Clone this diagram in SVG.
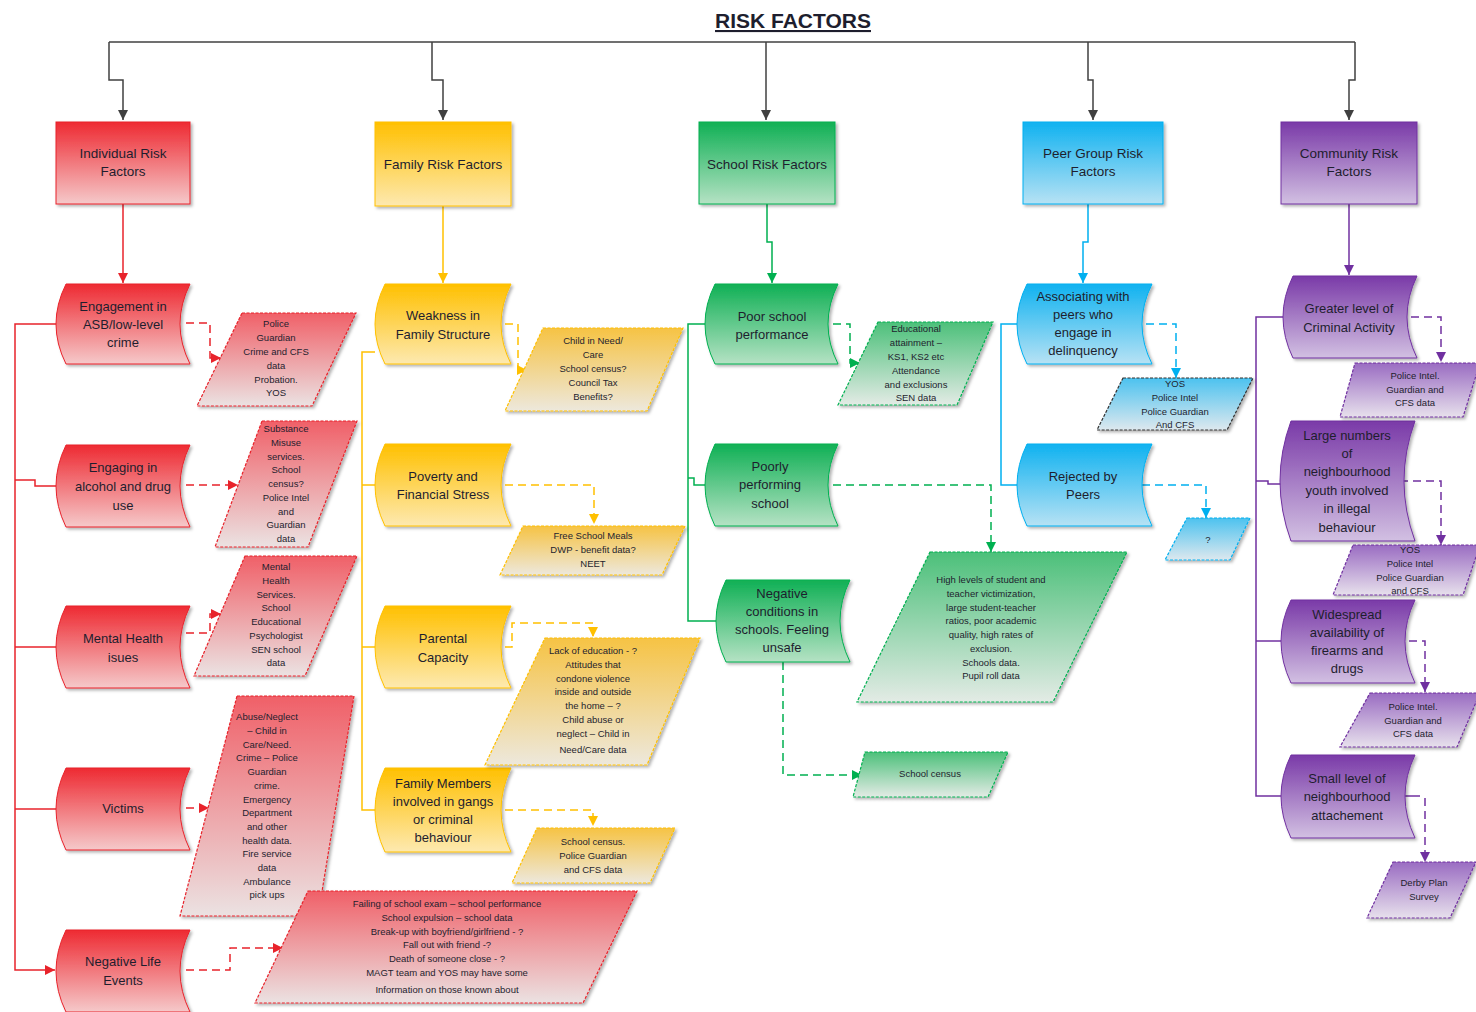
<svg xmlns="http://www.w3.org/2000/svg" width="1476" height="1012" viewBox="0 0 1476 1012">
<style>
text{font-family:"Liberation Sans",Arial,sans-serif;fill:#1e1e2e;text-anchor:middle}
.nt{font-size:13px}
.ht{font-size:13.5px}
.dt{font-size:9.5px}
.title{font-size:21px;font-weight:bold;text-decoration:underline}
.ln{fill:none;stroke-width:1.5}
.dash{stroke-dasharray:8 5}
.red{stroke:#e8232b}.yel{stroke:#ffc000}.grn{stroke:#00b050}.blu{stroke:#00b0f0}.pur{stroke:#7030a0}.blk{stroke:#404040}
.box{stroke-width:1.2;stroke-dasharray:3 1.5}
.node{stroke-width:1}
</style>
<defs>
<filter id="sh" x="-10%" y="-10%" width="125%" height="125%"><feDropShadow dx="2" dy="2" stdDeviation="1.5" flood-color="#000" flood-opacity="0.3"/></filter>
<linearGradient id="gr" x1="0" y1="0" x2="0" y2="1"><stop offset="0" stop-color="#ee2a32"/><stop offset="1" stop-color="#f5c9ca"/></linearGradient>
<linearGradient id="gy" x1="0" y1="0" x2="0" y2="1"><stop offset="0" stop-color="#ffc000"/><stop offset="1" stop-color="#fde9b0"/></linearGradient>
<linearGradient id="gg" x1="0" y1="0" x2="0" y2="1"><stop offset="0" stop-color="#10b055"/><stop offset="1" stop-color="#b5e2c4"/></linearGradient>
<linearGradient id="gb" x1="0" y1="0" x2="0" y2="1"><stop offset="0" stop-color="#10b2f0"/><stop offset="1" stop-color="#b7e2f4"/></linearGradient>
<linearGradient id="gp" x1="0" y1="0" x2="0" y2="1"><stop offset="0" stop-color="#7a3aa8"/><stop offset="1" stop-color="#d2c0e2"/></linearGradient>
<linearGradient id="dr" x1="0" y1="0" x2="0" y2="1"><stop offset="0" stop-color="#f06068"/><stop offset="1" stop-color="#ebe2e2"/></linearGradient>
<linearGradient id="dy" x1="0" y1="0" x2="0" y2="1"><stop offset="0" stop-color="#f6c344"/><stop offset="1" stop-color="#ede8dc"/></linearGradient>
<linearGradient id="dg" x1="0" y1="0" x2="0" y2="1"><stop offset="0" stop-color="#4cc07a"/><stop offset="1" stop-color="#e3ebe5"/></linearGradient>
<linearGradient id="db" x1="0" y1="0" x2="0" y2="1"><stop offset="0" stop-color="#4cc2ef"/><stop offset="1" stop-color="#dde8ee"/></linearGradient>
<linearGradient id="dp" x1="0" y1="0" x2="0" y2="1"><stop offset="0" stop-color="#9a6cc2"/><stop offset="1" stop-color="#e7e0ec"/></linearGradient>
<marker id="ak" markerUnits="userSpaceOnUse" markerWidth="12" markerHeight="12" refX="10" refY="5" orient="auto"><path d="M0,0 L10,5 L0,10 Z" fill="#404040"/></marker>
<marker id="ar" markerUnits="userSpaceOnUse" markerWidth="12" markerHeight="12" refX="10" refY="5" orient="auto"><path d="M0,0 L10,5 L0,10 Z" fill="#e8232b"/></marker>
<marker id="ay" markerUnits="userSpaceOnUse" markerWidth="12" markerHeight="12" refX="10" refY="5" orient="auto"><path d="M0,0 L10,5 L0,10 Z" fill="#ffc000"/></marker>
<marker id="ag" markerUnits="userSpaceOnUse" markerWidth="12" markerHeight="12" refX="10" refY="5" orient="auto"><path d="M0,0 L10,5 L0,10 Z" fill="#00b050"/></marker>
<marker id="ab" markerUnits="userSpaceOnUse" markerWidth="12" markerHeight="12" refX="10" refY="5" orient="auto"><path d="M0,0 L10,5 L0,10 Z" fill="#00b0f0"/></marker>
<marker id="ap" markerUnits="userSpaceOnUse" markerWidth="12" markerHeight="12" refX="10" refY="5" orient="auto"><path d="M0,0 L10,5 L0,10 Z" fill="#7030a0"/></marker>
</defs>
<rect width="1476" height="1012" fill="#ffffff"/>
<text class="title" x="793" y="28">RISK FACTORS</text>

<g id="connectors">
<path class="ln blk" d="M109,42 H1355"/>
<path class="ln blk" d="M109,42 V80 H123 V120" marker-end="url(#ak)"/>
<path class="ln blk" d="M432,42 V80 H443 V120" marker-end="url(#ak)"/>
<path class="ln blk" d="M766,42 V120" marker-end="url(#ak)"/>
<path class="ln blk" d="M1088,42 V80 H1093 V120" marker-end="url(#ak)"/>
<path class="ln blk" d="M1355,42 V80 H1349 V120" marker-end="url(#ak)"/>
<!-- individual -->
<path class="ln red" d="M123,204 V283" marker-end="url(#ar)"/>
<path class="ln red" d="M56,324 H15 V970 H55" marker-end="url(#ar)"/>
<path class="ln red" d="M15,480 H35 V486 H56"/>
<path class="ln red" d="M15,647 H56"/>
<path class="ln red" d="M15,809 H56"/>
<path class="ln red dash" d="M186,323 H210 V358 H221" marker-end="url(#ar)"/>
<path class="ln red dash" d="M186,485 H238" marker-end="url(#ar)"/>
<path class="ln red dash" d="M186,633 H210 V614 H221" marker-end="url(#ar)"/>
<path class="ln red dash" d="M186,808 H209" marker-end="url(#ar)"/>
<path class="ln red dash" d="M186,970 H230 V948 H283" marker-end="url(#ar)"/>
<!-- family -->
<path class="ln yel" d="M443,206 V283" marker-end="url(#ay)"/>
<path class="ln yel" d="M375,352 H362 V810 H375"/>
<path class="ln yel" d="M362,485 H375"/>
<path class="ln yel" d="M362,647 H375"/>
<path class="ln yel dash" d="M505,324 H518 V370 H527" marker-end="url(#ay)"/>
<path class="ln yel dash" d="M505,485 H594 V524" marker-end="url(#ay)"/>
<path class="ln yel dash" d="M505,647 H512 V623 H593 V637" marker-end="url(#ay)"/>
<path class="ln yel dash" d="M505,810 H593 V826" marker-end="url(#ay)"/>
<!-- school -->
<path class="ln grn" d="M767,204 V242 H772 V283" marker-end="url(#ag)"/>
<path class="ln grn" d="M705,324 H688 V621 H716"/>
<path class="ln grn" d="M688,478 H694 V485 H705"/>
<path class="ln grn dash" d="M833,324 H850 V363 H860" marker-end="url(#ag)"/>
<path class="ln grn dash" d="M833,485 H991 V552" marker-end="url(#ag)"/>
<path class="ln grn dash" d="M783,662 V775 H862" marker-end="url(#ag)"/>
<!-- peer -->
<path class="ln blu" d="M1088,204 V242 H1083 V283" marker-end="url(#ab)"/>
<path class="ln blu" d="M1017,324 H1001 V485 H1017"/>
<path class="ln blu dash" d="M1146,324 H1176 V378" marker-end="url(#ab)"/>
<path class="ln blu dash" d="M1142,485 H1206 V518" marker-end="url(#ab)"/>
<!-- community -->
<path class="ln pur" d="M1349,204 V275" marker-end="url(#ap)"/>
<path class="ln pur" d="M1283,317 H1256 V796 H1281"/>
<path class="ln pur" d="M1256,481 H1268 V484 H1281"/>
<path class="ln pur" d="M1256,641 H1281"/>
<path class="ln pur dash" d="M1411,317 H1441 V362" marker-end="url(#ap)"/>
<path class="ln pur dash" d="M1400,481 H1441 V545" marker-end="url(#ap)"/>
<path class="ln pur dash" d="M1409,641 H1425 V692" marker-end="url(#ap)"/>
<path class="ln pur" d="M1405,796 H1420"/>
<path class="ln pur dash" d="M1425,798 V862" marker-end="url(#ap)"/>
</g>

<!-- headers -->
<g id="h-individual"><rect x="56" y="122" width="134" height="82" fill="url(#gr)" stroke="#e8232b" filter="url(#sh)"/><text class="ht" x="123" y="157.5">Individual Risk<tspan x="123" dy="18.5">Factors</tspan></text></g>
<g id="h-family"><rect x="375" y="122" width="136" height="84" fill="url(#gy)" stroke="#ffc000" filter="url(#sh)"/><text class="ht" x="443" y="168.5">Family Risk Factors</text></g>
<g id="h-school"><rect x="699" y="122" width="136" height="82" fill="url(#gg)" stroke="#00b050" filter="url(#sh)"/><text class="ht" x="767" y="168.5">School Risk Factors</text></g>
<g id="h-peer"><rect x="1023" y="122" width="140" height="82" fill="url(#gb)" stroke="#00b0f0" filter="url(#sh)"/><text class="ht" x="1093" y="157.5">Peer Group Risk<tspan x="1093" dy="18.5">Factors</tspan></text></g>
<g id="h-community"><rect x="1281" y="122" width="136" height="82" fill="url(#gp)" stroke="#7030a0" filter="url(#sh)"/><text class="ht" x="1349" y="157.5">Community Risk<tspan x="1349" dy="18.5">Factors</tspan></text></g>

<!-- individual nodes -->
<g id="n-asb"><path class="node" d="M66,284 H190 Q170,324 190,364 H66 Q46,324 66,284 Z" fill="url(#gr)" stroke="#e8232b" filter="url(#sh)"/><text class="nt" x="123" y="310.5">Engagement in<tspan x="123" dy="18">ASB/low-level</tspan><tspan x="123" dy="18">crime</tspan></text></g>
<g id="n-alcohol"><path class="node" d="M66,445 H190 Q170,486 190,527 H66 Q46,486 66,445 Z" fill="url(#gr)" stroke="#e8232b" filter="url(#sh)"/><text class="nt" x="123" y="471.5">Engaging in<tspan x="123" dy="19">alcohol and drug</tspan><tspan x="123" dy="19">use</tspan></text></g>
<g id="n-mental"><path class="node" d="M66,606 H190 Q170,647 190,688 H66 Q46,647 66,606 Z" fill="url(#gr)" stroke="#e8232b" filter="url(#sh)"/><text class="nt" x="123" y="642.5">Mental Health<tspan x="123" dy="19">isues</tspan></text></g>
<g id="n-victims"><path class="node" d="M66,768 H190 Q170,809 190,850 H66 Q46,809 66,768 Z" fill="url(#gr)" stroke="#e8232b" filter="url(#sh)"/><text class="nt" x="123" y="812.5">Victims</text></g>
<g id="n-negative"><path class="node" d="M66,930 H190 Q170,971 190,1012 H66 Q46,971 66,930 Z" fill="url(#gr)" stroke="#e8232b" filter="url(#sh)"/><text class="nt" x="123" y="965.5">Negative Life<tspan x="123" dy="19">Events</tspan></text></g>

<!-- individual data -->
<g id="d-asb"><polygon class="box" points="242,313 356,313 312,406 197,406" fill="url(#dr)" stroke="#e8232b" filter="url(#sh)"/><text class="dt" x="276" y="327.3">Police<tspan x="276" dy="13.8">Guardian</tspan><tspan x="276" dy="13.8">Crime and CFS</tspan><tspan x="276" dy="13.8">data</tspan><tspan x="276" dy="13.8">Probation.</tspan><tspan x="276" dy="13.8">YOS</tspan></text></g>
<g id="d-alcohol"><polygon class="box" points="262,421 357,421 308,547 215,547" fill="url(#dr)" stroke="#e8232b" filter="url(#sh)"/><text class="dt" x="286" y="432.3">Substance<tspan x="286" dy="13.7">Misuse</tspan><tspan x="286" dy="13.7">services.</tspan><tspan x="286" dy="13.7">School</tspan><tspan x="286" dy="13.7">census?</tspan><tspan x="286" dy="13.7">Police Intel</tspan><tspan x="286" dy="13.7">and</tspan><tspan x="286" dy="13.7">Guardian</tspan><tspan x="286" dy="13.7">data</tspan></text></g>
<g id="d-mental"><polygon class="box" points="245,556 357,556 305,676 194,676" fill="url(#dr)" stroke="#e8232b" filter="url(#sh)"/><text class="dt" x="276" y="570.3">Mental<tspan x="276" dy="13.7">Health</tspan><tspan x="276" dy="13.7">Services.</tspan><tspan x="276" dy="13.7">School</tspan><tspan x="276" dy="13.7">Educational</tspan><tspan x="276" dy="13.7">Psychologist</tspan><tspan x="276" dy="13.7">SEN school</tspan><tspan x="276" dy="13.7">data</tspan></text></g>
<g id="d-victims"><polygon class="box" points="237,696 354,696 318,916 180,916" fill="url(#dr)" stroke="#e8232b" filter="url(#sh)"/><text class="dt" x="267" y="720.3">Abuse/Neglect<tspan x="267" dy="13.7">– Child in</tspan><tspan x="267" dy="13.7">Care/Need.</tspan><tspan x="267" dy="13.7">Crime – Police</tspan><tspan x="267" dy="13.7">Guardian</tspan><tspan x="267" dy="13.7">crime.</tspan><tspan x="267" dy="13.7">Emergency</tspan><tspan x="267" dy="13.7">Department</tspan><tspan x="267" dy="13.7">and other</tspan><tspan x="267" dy="13.7">health data.</tspan><tspan x="267" dy="13.7">Fire service</tspan><tspan x="267" dy="13.7">data</tspan><tspan x="267" dy="13.7">Ambulance</tspan><tspan x="267" dy="13.7">pick ups</tspan></text></g>
<g id="d-negative"><polygon class="box" points="308,891 637,891 583,1003 255,1003" fill="url(#dr)" stroke="#e8232b" filter="url(#sh)"/><text class="dt" x="447" y="907.3">Failing of school exam – school performance<tspan x="447" dy="13.7">School expulsion – school data</tspan><tspan x="447" dy="13.7">Break-up with boyfriend/girlfriend - ?</tspan><tspan x="447" dy="13.7">Fall out with friend -?</tspan><tspan x="447" dy="13.7">Death of someone close - ?</tspan><tspan x="447" dy="13.7">MAGT team and YOS may have some</tspan><tspan x="447" dy="17.5">Information on those known about</tspan></text></g>

<!-- family nodes -->
<g id="n-weakness"><path class="node" d="M385,284 H511 Q491,324 511,364 H385 Q365,324 385,284 Z" fill="url(#gy)" stroke="#ffc000" filter="url(#sh)"/><text class="nt" x="443" y="319.5">Weakness in<tspan x="443" dy="19">Family Structure</tspan></text></g>
<g id="n-poverty"><path class="node" d="M385,444 H511 Q491,485 511,526 H385 Q365,485 385,444 Z" fill="url(#gy)" stroke="#ffc000" filter="url(#sh)"/><text class="nt" x="443" y="480.5">Poverty and<tspan x="443" dy="18">Financial Stress</tspan></text></g>
<g id="n-parental"><path class="node" d="M385,606 H511 Q491,647 511,688 H385 Q365,647 385,606 Z" fill="url(#gy)" stroke="#ffc000" filter="url(#sh)"/><text class="nt" x="443" y="642.5">Parental<tspan x="443" dy="19">Capacity</tspan></text></g>
<g id="n-gangs"><path class="node" d="M385,768 H511 Q491,810 511,852 H385 Q365,810 385,768 Z" fill="url(#gy)" stroke="#ffc000" filter="url(#sh)"/><text class="nt" x="443" y="787.5">Family Members<tspan x="443" dy="18.3">involved in gangs</tspan><tspan x="443" dy="18.3">or criminal</tspan><tspan x="443" dy="18.3">behaviour</tspan></text></g>

<!-- family data -->
<g id="d-weakness"><polygon class="box" points="543,328 683,328 647,411 505,411" fill="url(#dy)" stroke="#ffc000" filter="url(#sh)"/><text class="dt" x="593" y="344.3">Child in Need/<tspan x="593" dy="14">Care</tspan><tspan x="593" dy="14">School census?</tspan><tspan x="593" dy="14">Council Tax</tspan><tspan x="593" dy="14">Benefits?</tspan></text></g>
<g id="d-poverty"><polygon class="box" points="523,526 685,526 662,575 500,575" fill="url(#dy)" stroke="#ffc000" filter="url(#sh)"/><text class="dt" x="593" y="539.3">Free School Meals<tspan x="593" dy="14">DWP - benefit data?</tspan><tspan x="593" dy="14">NEET</tspan></text></g>
<g id="d-parental"><polygon class="box" points="545,638 700,638 647,765 485,765" fill="url(#dy)" stroke="#ffc000" filter="url(#sh)"/><text class="dt" x="593" y="654.3">Lack of education - ?<tspan x="593" dy="13.7">Attitudes that</tspan><tspan x="593" dy="13.7">condone violence</tspan><tspan x="593" dy="13.7">inside and outside</tspan><tspan x="593" dy="13.7">the home – ?</tspan><tspan x="593" dy="13.7">Child abuse or</tspan><tspan x="593" dy="13.7">neglect – Child in</tspan><tspan x="593" dy="16.5">Need/Care data</tspan></text></g>
<g id="d-gangs"><polygon class="box" points="537,828 675,828 650,883 512,883" fill="url(#dy)" stroke="#ffc000" filter="url(#sh)"/><text class="dt" x="593" y="845.3">School census.<tspan x="593" dy="14">Police Guardian</tspan><tspan x="593" dy="14">and CFS data</tspan></text></g>

<!-- school nodes -->
<g id="n-poor"><path class="node" d="M715,284 H838 Q818,324 838,364 H715 Q695,324 715,284 Z" fill="url(#gg)" stroke="#00b050" filter="url(#sh)"/><text class="nt" x="772" y="320.5">Poor school<tspan x="772" dy="18">performance</tspan></text></g>
<g id="n-poorly"><path class="node" d="M715,444 H838 Q818,485 838,526 H715 Q695,485 715,444 Z" fill="url(#gg)" stroke="#00b050" filter="url(#sh)"/><text class="nt" x="770" y="470.5">Poorly<tspan x="770" dy="18.5">performing</tspan><tspan x="770" dy="18.5">school</tspan></text></g>
<g id="n-unsafe"><path class="node" d="M726,580 H850 Q830,621 850,662 H726 Q706,621 726,580 Z" fill="url(#gg)" stroke="#00b050" filter="url(#sh)"/><text class="nt" x="782" y="597.5">Negative<tspan x="782" dy="18.3">conditions in</tspan><tspan x="782" dy="18.3">schools. Feeling</tspan><tspan x="782" dy="18.3">unsafe</tspan></text></g>

<!-- school data -->
<g id="d-poor"><polygon class="box" points="878,322 993,322 957,405 838,405" fill="url(#dg)" stroke="#00b050" filter="url(#sh)"/><text class="dt" x="916" y="332.3">Educational<tspan x="916" dy="13.8">attainment –</tspan><tspan x="916" dy="13.8">KS1, KS2 etc</tspan><tspan x="916" dy="13.8">Attendance</tspan><tspan x="916" dy="13.8">and exclusions</tspan><tspan x="916" dy="13.8">SEN data</tspan></text></g>
<g id="d-poorly"><polygon class="box" points="930,552 1127,552 1053,702 857,702" fill="url(#dg)" stroke="#00b050" filter="url(#sh)"/><text class="dt" x="991" y="583.3">High levels of student and<tspan x="991" dy="13.7">teacher victimization,</tspan><tspan x="991" dy="13.7">large student-teacher</tspan><tspan x="991" dy="13.7">ratios, poor academic</tspan><tspan x="991" dy="13.7">quality, high rates of</tspan><tspan x="991" dy="13.7">exclusion.</tspan><tspan x="991" dy="13.7">Schools data.</tspan><tspan x="991" dy="13.7">Pupil roll data</tspan></text></g>
<g id="d-unsafe"><polygon class="box" points="865,752 1008,752 988,797 853,797" fill="url(#dg)" stroke="#00b050" filter="url(#sh)"/><text class="dt" x="930" y="777.3">School census</text></g>

<!-- peer nodes -->
<g id="n-associating"><path class="node" d="M1027,284 H1152 Q1132,324 1152,364 H1027 Q1007,324 1027,284 Z" fill="url(#gb)" stroke="#00b0f0" filter="url(#sh)"/><text class="nt" x="1083" y="300.5">Associating with<tspan x="1083" dy="18.3">peers who</tspan><tspan x="1083" dy="18.3">engage in</tspan><tspan x="1083" dy="18.3">delinquency</tspan></text></g>
<g id="n-rejected"><path class="node" d="M1027,444 H1152 Q1132,485 1152,526 H1027 Q1007,485 1027,444 Z" fill="url(#gb)" stroke="#00b0f0" filter="url(#sh)"/><text class="nt" x="1083" y="480.5">Rejected by<tspan x="1083" dy="18">Peers</tspan></text></g>

<!-- peer data -->
<g id="d-associating"><polygon class="box" points="1123,378 1253,378 1227,430 1097,430" fill="url(#db)" stroke="#303030" filter="url(#sh)"/><text class="dt" x="1175" y="387.3">YOS<tspan x="1175" dy="13.7">Police Intel</tspan><tspan x="1175" dy="13.7">Police Guardian</tspan><tspan x="1175" dy="13.7">And CFS</tspan></text></g>
<g id="d-rejected"><polygon class="box" points="1187,518 1250,518 1230,560 1165,560" fill="url(#db)" stroke="#00b0f0" filter="url(#sh)"/><text class="dt" x="1208" y="543.3">?</text></g>

<!-- community nodes -->
<g id="n-greater"><path class="node" d="M1293,276 H1417 Q1397,317 1417,358 H1293 Q1273,317 1293,276 Z" fill="url(#gp)" stroke="#7030a0" filter="url(#sh)"/><text class="nt" x="1349" y="312.5">Greater level of<tspan x="1349" dy="19">Criminal Activity</tspan></text></g>
<g id="n-youth"><path class="node" d="M1291,421 H1415 Q1393,481 1415,541 H1291 Q1269,481 1291,421 Z" fill="url(#gp)" stroke="#7030a0" filter="url(#sh)"/><text class="nt" x="1347" y="439.5">Large numbers<tspan x="1347" dy="18.4">of</tspan><tspan x="1347" dy="18.4">neighbourhood</tspan><tspan x="1347" dy="18.4">youth involved</tspan><tspan x="1347" dy="18.4">in illegal</tspan><tspan x="1347" dy="18.4">behaviour</tspan></text></g>
<g id="n-firearms"><path class="node" d="M1291,600 H1415 Q1395,641 1415,683 H1291 Q1271,641 1291,600 Z" fill="url(#gp)" stroke="#7030a0" filter="url(#sh)"/><text class="nt" x="1347" y="618.5">Widespread<tspan x="1347" dy="18.3">availability of</tspan><tspan x="1347" dy="18.3">firearms and</tspan><tspan x="1347" dy="18.3">drugs</tspan></text></g>
<g id="n-attachment"><path class="node" d="M1291,755 H1415 Q1395,796 1415,838 H1291 Q1271,796 1291,755 Z" fill="url(#gp)" stroke="#7030a0" filter="url(#sh)"/><text class="nt" x="1347" y="782.5">Small level of<tspan x="1347" dy="18.5">neighbourhood</tspan><tspan x="1347" dy="18.5">attachement</tspan></text></g>

<!-- community data -->
<g id="d-greater"><polygon class="box" points="1355,363 1480,363 1463,417 1340,417" fill="url(#dp)" stroke="#7030a0" filter="url(#sh)"/><text class="dt" x="1415" y="379.3">Police Intel.<tspan x="1415" dy="13.5">Guardian and</tspan><tspan x="1415" dy="13.5">CFS data</tspan></text></g>
<g id="d-youth"><polygon class="box" points="1353,545 1480,545 1463,595 1333,595" fill="url(#dp)" stroke="#7030a0" filter="url(#sh)"/><text class="dt" x="1410" y="553.3">YOS<tspan x="1410" dy="13.7">Police Intel</tspan><tspan x="1410" dy="13.7">Police Guardian</tspan><tspan x="1410" dy="13.7">and CFS</tspan></text></g>
<g id="d-firearms"><polygon class="box" points="1370,693 1480,693 1457,747 1340,747" fill="url(#dp)" stroke="#7030a0" filter="url(#sh)"/><text class="dt" x="1413" y="710.3">Police Intel.<tspan x="1413" dy="13.5">Guardian and</tspan><tspan x="1413" dy="13.5">CFS data</tspan></text></g>
<g id="d-attachment"><polygon class="box" points="1393,862 1476,862 1450,918 1367,918" fill="url(#dp)" stroke="#7030a0" filter="url(#sh)"/><text class="dt" x="1424" y="886.3">Derby Plan<tspan x="1424" dy="14">Survey</tspan></text></g>
</svg>
